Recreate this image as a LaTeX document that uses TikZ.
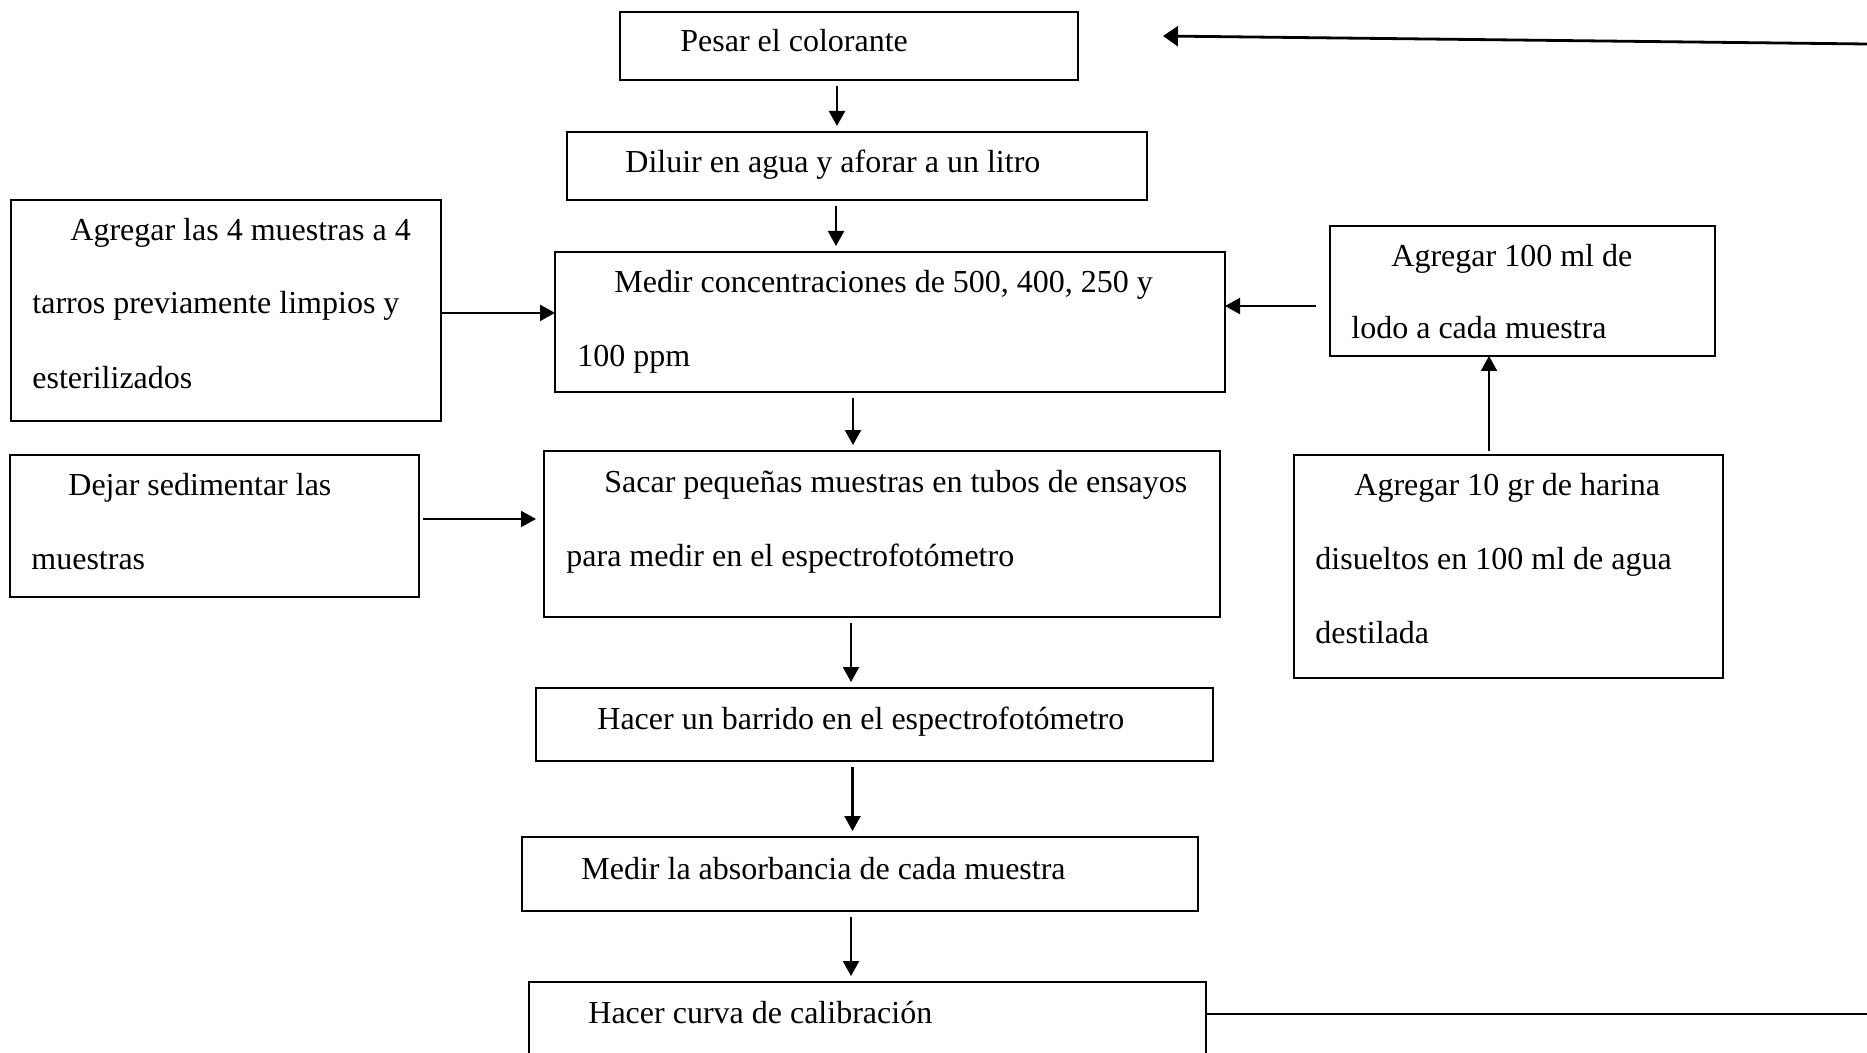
\documentclass[tikz,border=0pt]{standalone}
\usepackage{fontspec}
\setmainfont{Liberation Serif}
\usetikzlibrary{arrows.meta}

\tikzset{
  caja/.style={draw, line width=1pt, anchor=north west, inner sep=0pt, outer sep=0pt},
  texto/.style={anchor=base west, inner sep=0pt, font=\fontsize{16}{37}\selectfont},
  flecha/.style={-{Triangle[length=7.5pt,width=8pt]}, line width=1.1pt,
    shorten <=3pt, shorten >=3pt},
}

\begin{document}
\begin{tikzpicture}[x=0.5pt,y=-0.5pt]
  \clip (0,0) rectangle (1867,1053);

  % cajas del centro
  \node[caja, minimum width=229pt, minimum height=34pt] (pesar) at (620,12) {};
  \node[caja, minimum width=290pt, minimum height=34pt] (diluir) at (567,132) {};
  \node[caja, minimum width=335pt, minimum height=70pt] (medir) at (555,252) {};
  \node[caja, minimum width=338pt, minimum height=83pt] (sacar) at (544,451) {};
  \node[caja, minimum width=338.5pt, minimum height=36.5pt] (barrido) at (536,688) {};
  \node[caja, minimum width=338pt, minimum height=37pt] (absorb) at (522,837) {};
  \node[caja, minimum width=338.5pt, minimum height=50pt] (curva) at (529,982) {};

  % cajas de los lados
  \node[caja, minimum width=215pt, minimum height=110.5pt] (tarros) at (11,200) {};
  \node[caja, minimum width=204.5pt, minimum height=71pt] (dejar) at (10,455) {};
  \node[caja, minimum width=192.5pt, minimum height=65pt] (lodo) at (1330,226) {};
  \node[caja, minimum width=214.5pt, minimum height=111.5pt] (harina) at (1294,455) {};

  % textos
  \node[texto] (t1) at (680,52) {Pesar el colorante};
  \node[texto] (t2) at (625,173) {Diluir en agua y aforar a un litro};
  \node[texto] (t3) at (614,293) {Medir concentraciones de 500, 400, 250 y};
  \node[texto] (t4) at (577,366) {100 ppm};
  \node[texto] (t5) at (70,241) {Agregar las 4 muestras a 4};
  \node[texto] (t6) at (32,314) {tarros previamente limpios y};
  \node[texto] (t7) at (32,388) {esterilizados};
  \node[texto] (t8) at (1391,267) {Agregar 100 ml de};
  \node[texto] (t9) at (1351,339) {lodo a cada muestra};
  \node[texto] (t10) at (68,495) {Dejar sedimentar las};
  \node[texto] (t11) at (31,569) {muestras};
  \node[texto] (t12) at (604,492) {Sacar pequeñas muestras en tubos de ensayos};
  \node[texto] (t13) at (566,566) {para medir en el espectrofotómetro};
  \node[texto] (t14) at (1354,495) {Agregar 10 gr de harina};
  \node[texto] (t15) at (1315,569) {disueltos en 100 ml de agua};
  \node[texto] (t16) at (1315,643) {destilada};
  \node[texto] (t17) at (597,729) {Hacer un barrido en el espectrofotómetro};
  \node[texto] (t18) at (581,879) {Medir la absorbancia de cada muestra};
  \node[texto] (t19) at (588,1023) {Hacer curva de calibración};

  \coordinate (borde) at (1867,44);
  \coordinate (punta) at (1163,36);
  \coordinate (fin) at (1867,1014);

  % flechas
  \draw[flecha] ([xshift=-6pt]pesar.south) -- ([xshift=-6pt]pesar.south |- diluir.north);
  \draw[flecha] ([xshift=-10.5pt]diluir.south) -- ([xshift=-10.5pt]diluir.south |- medir.north);
  \draw[flecha] ([xshift=-18.5pt]medir.south) -- ([xshift=-18.5pt]medir.south |- sacar.north);
  \draw[flecha] ([xshift=-15.5pt]sacar.south) -- ([xshift=-15.5pt]sacar.south |- barrido.north);
  \draw[flecha] ([xshift=-11pt]barrido.south) -- ([xshift=-11pt]barrido.south |- absorb.north);
  \draw[flecha] ([xshift=-4.5pt]absorb.south) -- ([xshift=-4.5pt]absorb.south |- curva.north);
  \draw[flecha, shorten <=0pt, shorten >=0pt] ([yshift=-1.2pt]tarros.east) -- ([yshift=-1.2pt]tarros.east -| medir.west);
  \draw[flecha, shorten <=7pt, shorten >=0pt] ([yshift=-7.5pt]lodo.west) -- ([yshift=-7.5pt]lodo.west -| medir.east);
  \draw[flecha, shorten <=2pt, shorten >=4pt] ([yshift=3.5pt]dejar.east) -- ([yshift=3.5pt]dejar.east -| sacar.west);
  \draw[flecha, shorten <=2pt, shorten >=0pt] ([xshift=-9.75pt]harina.north) -- ([xshift=-9.75pt]harina.north |- lodo.south);
  \draw[-{Triangle[length=7.5pt,width=10pt]}, line width=1.4pt] (borde) -- (punta);
  \draw[line width=0.6pt] ([yshift=9pt]curva.east) -- (fin);
\end{tikzpicture}
\end{document}
